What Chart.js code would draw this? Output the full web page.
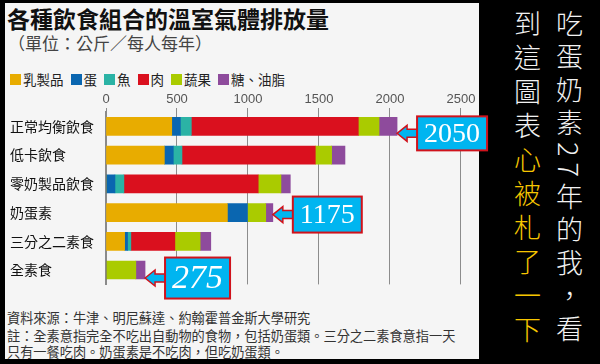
<!DOCTYPE html>
<html>
<head>
<meta charset="utf-8">
<script src="https://cdn.jsdelivr.net/npm/chart.js@4"></script>
<style>
  body { margin: 0; width: 600px; height: 364px; background: #000; position: relative; overflow: hidden; font-family: "Noto Sans CJK TC", sans-serif; }
  #panel { position: absolute; left: 5px; top: 3px; width: 474px; height: 356px; background: #f5f5f5; }
  #title { position: absolute; left: 7px; top: 2px; font-size: 23px; font-weight: bold; color: #111; white-space: nowrap; line-height: 32px; }
  #subtitle { position: absolute; left: 8px; top: 31px; font-size: 17px; color: #444; white-space: nowrap; line-height: 24px; }
  #legend { position: absolute; left: 10px; top: 70px; font-size: 13.5px; color: #222; white-space: nowrap; line-height: 18px; display: flex; align-items: center; }
  #legend .item { display: flex; align-items: center; margin-right: 7px; }
  #legend .sw { width: 11px; height: 11px; margin-right: 2px; }
  #chartBox { position: absolute; left: 0; top: 88px; width: 500px; height: 212px; }
  #notes { position: absolute; left: 7px; top: 310px; font-size: 13.2px; color: #333; white-space: nowrap; line-height: 16px; }
  .side { position: absolute; top: 10px; writing-mode: vertical-rl; font-size: 27px; line-height: 27px; color: #f2f2f2; font-weight: 300; }
  #side1 { left: 556px; letter-spacing: 6px; }
  #side2 { left: 514px; letter-spacing: 7px; }
  #side2 span { color: #f7c600; }
</style>
</head>
<body>
<div id="panel"></div>
<div id="title">各種飲食組合的溫室氣體排放量</div>
<div id="subtitle">（單位：公斤／每人每年）</div>
<div id="legend"></div>
<div id="chartBox"><canvas id="chart" width="500" height="212"></canvas></div>
<div id="notes">
  <div style="margin-bottom:2px">資料來源：牛津、明尼蘇達、約翰霍普金斯大學研究</div>
  <div>註：全素意指完全不吃出自動物的食物，包括奶蛋類。三分之二素食意指一天</div>
  <div>只有一餐吃肉。奶蛋素是不吃肉，但吃奶蛋類。</div>
</div>
<div class="side" id="side1">吃蛋奶素27年的我，看</div>
<div class="side" id="side2">到這圖表<span>心被札了一下</span></div>

<script>
// ==================== DATOS ====================
const categorias = ['正常均衡飲食', '低卡飲食', '零奶製品飲食', '奶蛋素', '三分之二素食', '全素食'];
const seriesNombres = ['乳製品', '蛋', '魚', '肉', '蔬果', '糖、油脂'];
const seriesColores = ['#e8ac00', '#0a66b0', '#2bb3a5', '#da101e', '#aacb00', '#8e4b9c'];

const lacteos = [463, 411, 0, 855, 131, 0];
const huevo = [61, 63, 63, 140, 21, 0];
const pescado = [77, 61, 63, 0, 23, 0];
const carne = [1176, 939, 946, 0, 310, 0];
const vegetales = [146, 115, 160, 130, 178, 210];
const azucar = [127, 94, 66, 50, 75, 65];

const ticksX = [0, 500, 1000, 1500, 2000, 2500];
const etiquetasTotal = ['2050', null, null, '1175', null, '275'];

// ==================== LEYENDA ====================
const legend = document.getElementById('legend');
seriesNombres.forEach((nombre, i) => {
    const item = document.createElement('div');
    item.className = 'item';
    item.innerHTML = `<div class="sw" style="background:${seriesColores[i]}"></div><span>${nombre}</span>`;
    legend.appendChild(item);
});

// ==================== CALLOUTS ====================
const estiloCallout = {
    dy: [7, 0, 0, 2, 0, 8],
    fontSize: [28, 0, 0, 28, 0, 34],
    italic: [false, false, false, false, false, true],
    alto: [34, 0, 0, 36, 0, 41],
    flecha: 20
};

const calloutPlugin = {
    id: 'callouts',
    afterDatasetsDraw(chart) {
        const { ctx, scales: { x, y } } = chart;
        etiquetasTotal.forEach((txt, i) => {
            if (!txt) return;
            const total = chart.data.datasets.reduce((s, ds) => s + ds.data[i], 0);
            const tipX = x.getPixelForValue(total);
            const cy = y.getPixelForValue(i) + estiloCallout.dy[i];
            const boxL = tipX + estiloCallout.flecha;
            ctx.save();
            ctx.font = `${estiloCallout.italic[i] ? 'italic ' : ''}${estiloCallout.fontSize[i]}px "Liberation Serif", serif`;
            const w = ctx.measureText(txt).width + 14;
            const h = estiloCallout.alto[i];

            // flecha
            ctx.beginPath();
            ctx.moveTo(tipX, cy);
            ctx.lineTo(tipX + 10, cy - 8);
            ctx.lineTo(tipX + 10, cy - 4);
            ctx.lineTo(boxL + 2, cy - 4);
            ctx.lineTo(boxL + 2, cy + 4);
            ctx.lineTo(tipX + 10, cy + 4);
            ctx.lineTo(tipX + 10, cy + 8);
            ctx.closePath();
            ctx.fillStyle = '#00b5f0';
            ctx.fill();
            ctx.strokeStyle = '#d0121b';
            ctx.lineWidth = 1.5;
            ctx.stroke();

            // caja
            ctx.fillStyle = '#00b5f0';
            ctx.fillRect(boxL, cy - h / 2, w, h);
            ctx.lineWidth = 2;
            ctx.strokeRect(boxL, cy - h / 2, w, h);

            ctx.fillStyle = '#ffffff';
            ctx.textAlign = 'center';
            ctx.textBaseline = 'middle';
            ctx.fillText(txt, boxL + w / 2, cy + 1);
            ctx.restore();
        });
    }
};

// ==================== GRÁFICO ====================
const datosSeries = [lacteos, huevo, pescado, carne, vegetales, azucar];
const ctx = document.getElementById('chart').getContext('2d');
const chart = new Chart(ctx, {
    type: 'bar',
    data: {
        labels: categorias,
        datasets: datosSeries.map((d, i) => ({
            label: seriesNombres[i],
            data: d,
            backgroundColor: seriesColores[i],
            borderWidth: 0,
            barThickness: 18
        }))
    },
    options: {
        indexAxis: 'y',
        responsive: false,
        animation: false,
        layout: { padding: { left: 10, right: 22, top: 0, bottom: 15.6 } },
        plugins: { legend: { display: false }, tooltip: { enabled: false } },
        scales: {
            x: {
                position: 'top',
                stacked: true,
                min: 0,
                max: 2620,
                afterBuildTicks: (scale) => { scale.ticks = ticksX.map(v => ({ value: v })); },
                afterFit: (scale) => { scale.height = 24; },
                ticks: {
                    color: '#555',
                    padding: 1,
                    font: { family: '"Liberation Sans Narrow", "Liberation Sans", sans-serif', size: 13 },
                    callback: (v) => String(v)
                },
                grid: { color: '#8c8c8c', lineWidth: 1, tickLength: 4 },
                border: { display: false }
            },
            y: {
                stacked: true,
                afterFit: (scale) => { scale.width = 96; },
                ticks: { color: '#111', crossAlign: 'far', font: { family: '"Noto Sans CJK TC", sans-serif', size: 14 } },
                grid: { display: false },
                border: { display: true, color: '#8a8a8a', width: 2 }
            }
        }
    },
    plugins: [calloutPlugin]
});
</script>
</body>
</html>
